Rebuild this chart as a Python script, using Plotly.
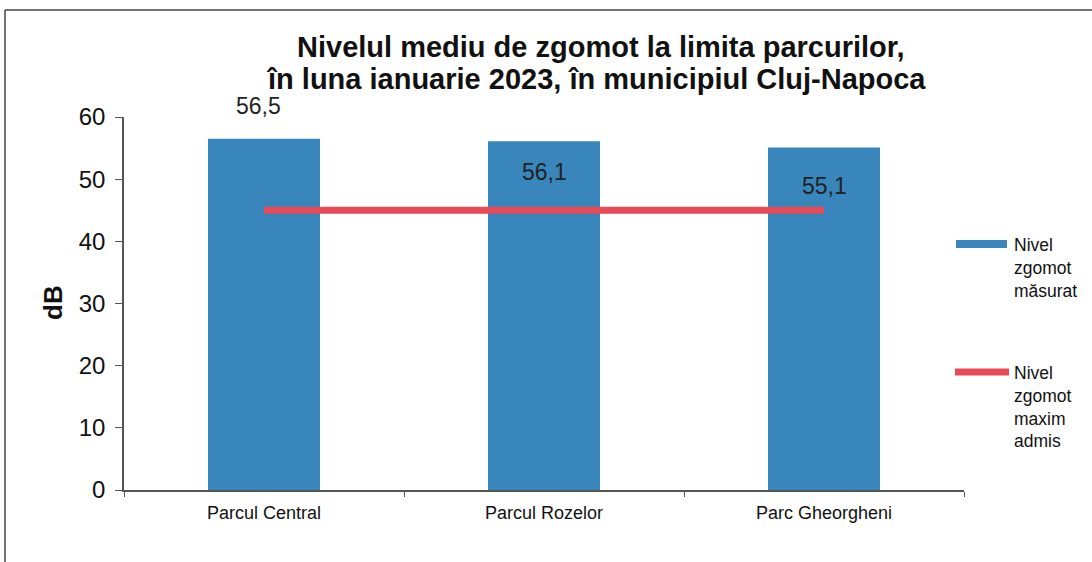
import plotly.graph_objects as go

# ---- data ----
parks = ["Parcul Central", "Parcul Rozelor", "Parc Gheorgheni"]
measured_db = [56.5, 56.1, 55.1]
max_admis_db = [45, 45, 45]
value_labels = ["56,5", "56,1", "55,1"]
y_ticks = [0, 10, 20, 30, 40, 50, 60]
legend_names = ["Nivel<br>zgomot<br>măsurat", "Nivel<br>zgomot<br>maxim<br>admis"]
title_lines = ["Nivelul mediu de zgomot la limita parcurilor,",
               "în luna ianuarie 2023, în municipiul Cluj-Napoca"]

# ---- style ----
BLUE = "#3886bc"
RED = "#e84a57"
FONT = "Liberation Sans, Arial, sans-serif"
W, H = 1092, 562
L, R, T, B = 124, 128, 117, 72
label_shift_px = [33, -31, -39]
label_xshift_px = [-6, 0, 0]

fig = go.Figure()
fig.add_trace(go.Bar(x=parks, y=measured_db, marker=dict(color=BLUE, line=dict(width=0)),
                     showlegend=False, hoverinfo="skip"))
fig.add_trace(go.Scatter(x=parks, y=max_admis_db, mode="lines",
                         line=dict(color=RED, width=7), showlegend=False, hoverinfo="skip"))

annotations = []
for p, v, t, ys, xs in zip(parks, measured_db, value_labels, label_shift_px, label_xshift_px):
    annotations.append(dict(x=p, y=v, xref="x", yref="y", text=t, showarrow=False,
                            yshift=ys, xshift=xs, font=dict(family=FONT, size=23, color="#222"),
                            xanchor="center", yanchor="middle"))

pw = W - L - R
ph = H - T - B
def px_x(x):
    return (x - L) / pw
def px_y(y):
    return (H - B - y) / ph

# title lines
for line, xc, yc in zip(title_lines, [601, 596], [47, 79]):
    annotations.append(dict(x=px_x(xc), y=px_y(yc), xref="paper", yref="paper", text="<b>" + line + "</b>",
                            showarrow=False, xanchor="center", yanchor="middle",
                            font=dict(family=FONT, size=29, color="#111")))
# y axis title
annotations.append(dict(x=px_x(53), y=px_y(303), xref="paper", yref="paper", text="<b>dB</b>",
                        showarrow=False, textangle=-90, xanchor="center", yanchor="middle",
                        font=dict(family=FONT, size=26, color="#111")))
# legend texts
for name, ytop in zip(legend_names, [233, 361]):
    annotations.append(dict(x=px_x(1012), y=px_y(ytop), xref="paper", yref="paper", text=name,
                            showarrow=False, xanchor="left", yanchor="top", align="left",
                            font=dict(family=FONT, size=17.5, color="#111")))

shapes = [
    # legend swatches
    dict(type="rect", xref="paper", yref="paper", x0=px_x(956), x1=px_x(1007),
         y0=px_y(248), y1=px_y(240), fillcolor=BLUE, line=dict(width=0)),
    dict(type="line", xref="paper", yref="paper", x0=px_x(955), x1=px_x(1009),
         y0=px_y(372), y1=px_y(372), line=dict(color=RED, width=7)),
    # frame (top + left)
    dict(type="line", xref="paper", yref="paper", x0=px_x(5), x1=px_x(W + 5),
         y0=px_y(10), y1=px_y(10), line=dict(color="#444", width=1.5)),
    dict(type="line", xref="paper", yref="paper", x0=px_x(5), x1=px_x(5),
         y0=px_y(10), y1=px_y(H + 5), line=dict(color="#444", width=1.5)),
]

fig.update_layout(
    width=W, height=H,
    margin=dict(l=L, r=R, t=T, b=B, pad=0),
    paper_bgcolor="white", plot_bgcolor="white",
    bargap=0.6,
    showlegend=False,
    annotations=annotations,
    shapes=shapes,
    font=dict(family=FONT, color="#111"),
)
fig.update_xaxes(type="category", showline=True, linecolor="#555", linewidth=1.5,
                 ticks="outside", tickson="boundaries", ticklen=5, tickcolor="#555",
                 showgrid=False, zeroline=False,
                 tickfont=dict(family=FONT, size=18, color="#111"), ticklabelstandoff=6)
fig.update_yaxes(range=[0, 60], tickvals=y_ticks, showline=True, linecolor="#555", linewidth=1.5,
                 ticks="outside", ticklen=7, tickcolor="#555", showgrid=False, zeroline=False,
                 tickfont=dict(family=FONT, size=24, color="#111"), ticklabelstandoff=5)

fig.write_html("out.html", config={"displayModeBar": False},
               post_script="document.body.style.margin='0px';document.body.style.overflow='hidden';")
